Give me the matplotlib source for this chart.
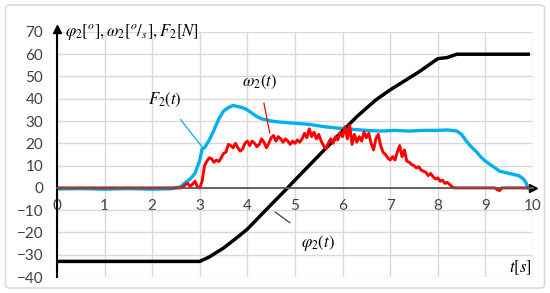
import matplotlib
matplotlib.use("Agg")
import matplotlib.pyplot as plt
from matplotlib.patches import FancyBboxPatch

# rotation angle phi2 [deg]
phi_t = [0, 3.0, 3.2, 3.5, 3.8, 4.0, 4.5, 4.8, 5.0, 5.5, 6.0, 6.3, 6.7, 7.0,
         7.3, 7.6, 7.8, 8.0, 8.2, 8.4, 9.0, 9.9]
phi_v = [-33, -33, -31, -27, -22, -18.5, -7.5, -1, 3.5, 14.5, 25.5, 32, 39.5,
         44, 48, 52, 55, 58, 58.5, 60, 60, 60]

# force F2 [N]
f_t = [0, 0.5, 1.0, 1.5, 2.0, 2.4, 2.6, 2.7, 2.8, 2.9, 3.0, 3.05, 3.1, 3.2,
       3.3, 3.4, 3.5, 3.6, 3.7, 3.8, 3.9, 4.0, 4.1, 4.2, 4.3, 4.5, 4.7, 5.0,
       5.3, 5.6, 5.9, 6.2, 6.5, 6.8, 7.1, 7.4, 7.7, 8.0, 8.2, 8.4, 8.5, 8.6,
       8.7, 8.8, 8.9, 9.0, 9.1, 9.2, 9.3, 9.4, 9.5, 9.6, 9.7, 9.8, 9.85, 9.9]
f_v = [-0.5, -0.3, -0.6, -0.3, -0.6, -0.4, 0.5, 2.5, 4.0, 6.5, 12.5, 17.5,
       18.0, 21.5, 26, 31, 34.5, 36, 37, 36.5, 36, 35, 33.5, 32, 31, 30,
       29.5, 29, 28.5, 27.5, 26.8, 26.3, 25.8, 25.5, 25.8, 25.5, 25.8, 25.8,
       26.0, 25.5, 24, 21, 18.5, 16.5, 14, 12, 10.5, 9, 7.5, 7, 6.5, 6, 5.5,
       4, 2.5, 0]

# angular velocity omega2 [deg/s]
w_t = [0, 2.6, 2.65, 2.7, 2.75, 2.8, 2.85, 2.9, 2.95, 3.0, 3.05, 3.1, 3.15,
       3.2, 3.25, 3.3, 3.35, 3.4, 3.45, 3.5, 3.55, 3.6, 3.65, 3.7, 3.75, 3.8,
       3.85, 3.9, 3.95, 4.0, 4.05, 4.1, 4.15, 4.2, 4.25, 4.3, 4.35, 4.4, 4.45,
       4.5, 4.55, 4.6, 4.65, 4.7, 4.75, 4.8, 4.85, 4.9, 4.95, 5.0, 5.05, 5.1,
       5.15, 5.2, 5.25, 5.3, 5.35, 5.4, 5.45, 5.5, 5.55, 5.6, 5.65, 5.7, 5.75,
       5.8, 5.85, 5.9, 5.95, 6.0, 6.05, 6.1, 6.15, 6.2, 6.25, 6.3, 6.35, 6.4,
       6.45, 6.5, 6.55, 6.6, 6.65, 6.7, 6.75, 6.8, 6.85, 6.9, 6.95, 7.0, 7.05,
       7.1, 7.15, 7.2, 7.25, 7.3, 7.35, 7.4, 7.45, 7.5, 7.55, 7.6, 7.65, 7.7,
       7.75, 7.8, 7.85, 7.9, 7.95, 8.0, 8.05, 8.1, 8.15, 8.2, 8.25, 8.3, 8.35,
       9.2, 9.25, 9.3, 9.35, 9.9]
w_v = [0, 0, 0.5, 1.5, 2.0, 0.5, 1.8, 3.0, 0.5, 0, 3, 10, 12, 13.5, 13, 11.5,
       12.5, 11.8, 13.5, 15.5, 16, 19.5, 19, 18, 20, 18, 16.5, 17.5, 20, 21,
       19, 21, 20, 18.5, 19.5, 22, 20.5, 18, 20, 22.5, 23.5, 21, 23, 22, 20.5,
       22, 21, 19.5, 21, 20, 21.5, 20.5, 22, 24.5, 22.5, 26.5, 23, 25, 22, 24,
       21, 19, 17.5, 20, 22, 20, 23, 21.5, 25, 23, 27.5, 22, 28, 19.5, 24,
       20.5, 23, 21, 25, 22.5, 24.5, 20, 17, 22, 24, 19, 16, 15, 13.5, 12.5,
       14, 12.5, 16, 19, 14, 17, 12, 11.5, 10.5, 10, 9, 9.5, 8, 7.5, 7, 5.5,
       6.5, 5, 4, 4.5, 3, 3.5, 2, 2.5, 1.5, 0.5, 0, 0, -0.8, -1.2, 0, 0]

x_ticks = [0, 1, 2, 3, 4, 5, 6, 7, 8, 9, 10]
y_ticks = [-40, -30, -20, -10, 0, 10, 20, 30, 40, 50, 60, 70]

plt.rcParams['font.family'] = ['Lato', 'DejaVu Sans']
plt.rcParams['mathtext.fontset'] = 'stix'

fig = plt.figure(figsize=(5.5, 2.93), dpi=100)
fig.patches.append(FancyBboxPatch((0.01, 0.017), 0.98, 0.966,
                                  boxstyle="round,pad=0,rounding_size=0.01",
                                  transform=fig.transFigure, fill=False,
                                  edgecolor='#d9d9d9', linewidth=1.2))
ax = fig.add_axes([0.1036, 0.0546, 0.8654, 0.8364])

ax.set_xlim(0, 10)
ax.set_ylim(-40, 70)
ax.set_xticks(x_ticks)
ax.set_yticks(y_ticks)
ax.grid(True, color='#d9d9d9', linewidth=1.0)
ax.set_axisbelow(True)

for s in ['top', 'right']:
    ax.spines[s].set_visible(False)
ax.spines['bottom'].set_position(('data', 0))
ax.spines['bottom'].set_color('#595959')
ax.spines['bottom'].set_linewidth(1.3)
ax.spines['left'].set_color('black')
ax.spines['left'].set_linewidth(1.5)
ax.tick_params(axis='both', length=0, labelsize=11, colors='#404040')
ax.tick_params(axis='y', pad=10)
ax.tick_params(axis='x', pad=8)

# arrow heads on the axes
ax.plot([0], [71.5], marker='^', color='black', markersize=6, clip_on=False)
ax.plot([10], [0], marker='>', color='black', markersize=6, clip_on=False)

ax.plot(f_t, f_v, color='#00b0f0', linewidth=2.4, solid_joinstyle='round')
ax.plot(phi_t, phi_v, color='black', linewidth=2.5)
ax.plot(w_t, w_v, color='#ff0000', linewidth=2.1)

tsize = 12
ax.text(0.17, 70, r'$\varphi_2[^o],\omega_2[^o/_s],F_2[N]$', fontsize=tsize,
        ha='left', va='center')
ax.annotate(r'$F_2(t)$', xy=(3.05, 18.4), xytext=(2.27, 39.5),
            fontsize=tsize, ha='center', va='center',
            arrowprops=dict(arrowstyle='-', color='#00b0f0', lw=0.9,
                            shrinkA=7, shrinkB=0))
ax.annotate(r'$\omega_2(t)$', xy=(4.47, 24.6), xytext=(4.26, 47.7),
            fontsize=tsize, ha='center', va='center',
            arrowprops=dict(arrowstyle='-', color='#ff0000', lw=0.9,
                            shrinkA=7, shrinkB=0))
ax.annotate(r'$\varphi_2(t)$', xy=(4.58, -10.8), xytext=(5.48, -24.7),
            fontsize=tsize, ha='center', va='center',
            arrowprops=dict(arrowstyle='-', color='#404040', lw=0.9,
                            shrinkA=9, shrinkB=0))
ax.text(9.98, -36, r'$t[s]$', fontsize=tsize, ha='right', va='center')

fig.savefig('out.png', dpi=100)
